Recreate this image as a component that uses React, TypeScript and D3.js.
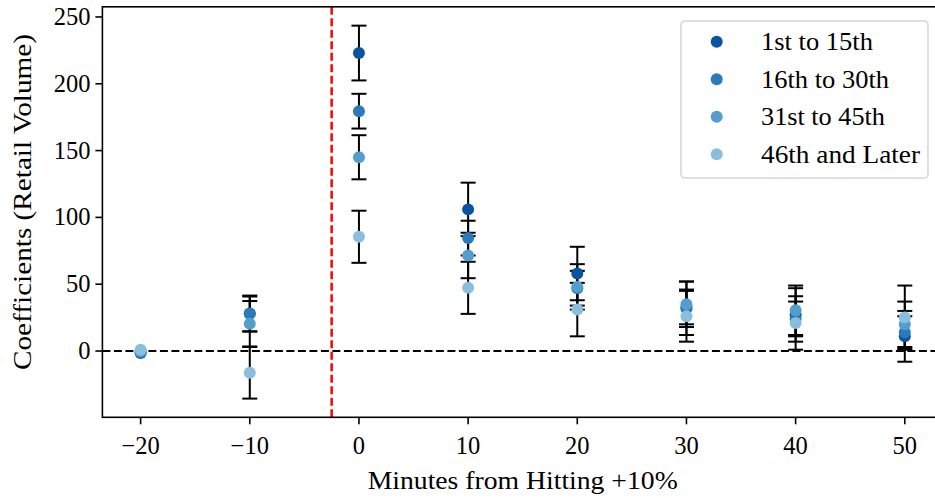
import React from "react";
import * as d3 from "d3";

const xValues = [-20, -10, 0, 10, 20, 30, 40, 50];
const seriesNames = ["1st to 15th", "16th to 30th", "31st to 45th", "46th and Later"];
const seriesColors = ["#0a539e", "#2b7bba", "#539ecd", "#89bedc"];
const s1 = [-1.5, 28, 223, 106, 58, 32, 27, 11];
const s1Err = [0, 13.5, 20.5, 20, 20, 20, 20, 19];
const s2 = [-1, 27.8, 179.5, 84.5, 47, 33, 24, 14];
const s2Err = [0, 13, 13, 13, 13, 13, 13, 12];
const s3 = [0, 20.4, 145, 71.5, 48, 35, 30.5, 20];
const s3Err = [0, 17, 16.5, 17, 17, 17, 18.5, 17];
const s4 = [1, -16.3, 85.5, 47.3, 31, 26, 21, 25];
const s4Err = [0, 19.3, 19.5, 19.5, 20, 19, 20, 24];
const xTicks = [-20, -10, 0, 10, 20, 30, 40, 50];
const yTicks = [0, 50, 100, 150, 200, 250];
const eventLine = -2.5;

const W = 935;
const H = 498;
const left = 102.4;
const right = 943;
const top = 6.8;
const bottom = 417.3;
const FONT = "'Liberation Serif', 'DejaVu Serif', serif";
const legendWidths = [112, 128, 124, 159];

export default function App() {
  const x = d3.scaleLinear().domain([-23.5, 53.5]).range([left, right]);
  const y = d3.scaleLinear().domain([-49.6, 257.6]).range([bottom, top]);
  const series = [
    { name: seriesNames[0], color: seriesColors[0], v: s1, e: s1Err },
    { name: seriesNames[1], color: seriesColors[1], v: s2, e: s2Err },
    { name: seriesNames[2], color: seriesColors[2], v: s3, e: s3Err },
    { name: seriesNames[3], color: seriesColors[3], v: s4, e: s4Err },
  ];
  const cap = 7.5;
  const legendX = 681;
  const legendY = 21;
  const legendRow = 37.5;

  return (
    <svg width={W} height={H} style={{ position: "absolute", left: 0, top: 0 }} fontFamily={FONT}>
      <rect x={0} y={0} width={W} height={H} fill="white" />
      <line x1={left} x2={right} y1={y(0)} y2={y(0)} stroke="black" strokeWidth={2.2} strokeDasharray="8,3.5" />
      <line x1={x(eventLine)} x2={x(eventLine)} y1={top} y2={bottom} stroke="#ff0000" strokeWidth={2.5} strokeDasharray="8,3.5" />
      {series.map((s, si) => (
        <g key={"e" + si}>
          {xValues.map((xv, i) =>
            s.e[i] > 0 ? (
              <g key={i} stroke="black" strokeWidth={2}>
                <line x1={x(xv)} x2={x(xv)} y1={y(s.v[i] - s.e[i])} y2={y(s.v[i] + s.e[i])} />
                <line x1={x(xv) - cap} x2={x(xv) + cap} y1={y(s.v[i] - s.e[i])} y2={y(s.v[i] - s.e[i])} />
                <line x1={x(xv) - cap} x2={x(xv) + cap} y1={y(s.v[i] + s.e[i])} y2={y(s.v[i] + s.e[i])} />
              </g>
            ) : null
          )}
        </g>
      ))}
      {series.map((s, si) => (
        <g key={"p" + si}>
          {xValues.map((xv, i) => (
            <circle key={i} cx={x(xv)} cy={y(s.v[i])} r={6} fill={s.color} />
          ))}
        </g>
      ))}
      <rect x={left} y={top} width={right - left} height={bottom - top} fill="none" stroke="black" strokeWidth={1.6} />
      {xTicks.map((t) => (
        <g key={"xt" + t}>
          <line x1={x(t)} x2={x(t)} y1={bottom} y2={bottom + 7} stroke="black" strokeWidth={1.6} />
          <text x={x(t)} y={bottom + 37} textAnchor="middle" fontSize={24.5} fill="black">
            {t < 0 ? "\u2212" + Math.abs(t) : String(t)}
          </text>
        </g>
      ))}
      {yTicks.map((t) => (
        <g key={"yt" + t}>
          <line x1={left - 7} x2={left} y1={y(t)} y2={y(t)} stroke="black" strokeWidth={1.6} />
          <text x={left - 12} y={y(t) + 8} textAnchor="end" fontSize={24.5} fill="black">
            {String(t)}
          </text>
        </g>
      ))}
      <text x={(left + right) / 2} y={489} textAnchor="middle" fontSize={24.5} fill="black" textLength={310} lengthAdjust="spacingAndGlyphs">
        Minutes from Hitting +10%
      </text>
      <text transform={`translate(31, 202) rotate(-90)`} textAnchor="middle" fontSize={24.5} fill="black" textLength={336} lengthAdjust="spacingAndGlyphs">
        Coefficients (Retail Volume)
      </text>
      <rect x={legendX} y={legendY} width={247} height={157} rx={4} fill="white" fillOpacity={0.8} stroke="#d6d6d6" strokeWidth={1.6} />
      {series.map((s, si) => (
        <g key={"l" + si}>
          <circle cx={716.7} cy={legendY + 20.7 + si * legendRow} r={6} fill={s.color} />
          <text x={761} y={legendY + 20.7 + si * legendRow + 8.5} fontSize={24.5} fill="black" textLength={legendWidths[si]} lengthAdjust="spacingAndGlyphs">
            {s.name}
          </text>
        </g>
      ))}
    </svg>
  );
}
